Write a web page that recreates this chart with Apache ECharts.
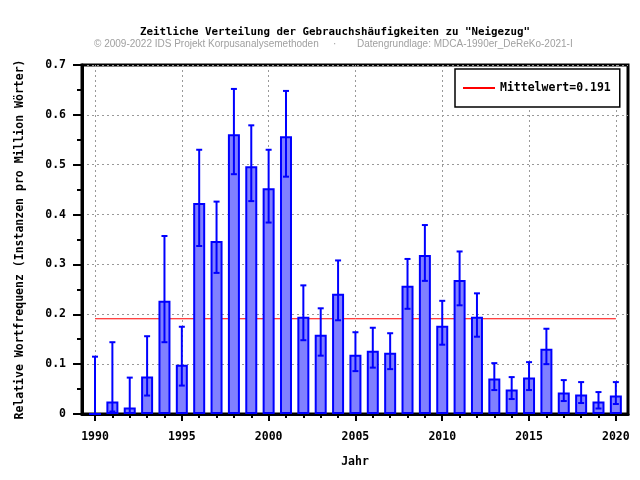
<!DOCTYPE html>
<html>
<head>
<meta charset="utf-8">
<script src="https://cdn.jsdelivr.net/npm/echarts@6/dist/echarts.min.js"></script>
<style>
  html, body { margin: 0; padding: 0; background: #fff; }
  #chart { width: 640px; height: 480px; }
</style>
</head>
<body>
<div id="chart"></div>
<script>
// Jahre und Werte (relative Frequenz, pro Million Wörter)
const years = [1990, 1991, 1992, 1993, 1994, 1995, 1996, 1997, 1998, 1999,
  2000, 2001, 2002, 2003, 2004, 2005, 2006, 2007, 2008, 2009,
  2010, 2011, 2012, 2013, 2014, 2015, 2016, 2017, 2018, 2019, 2020]
const freq = [0, 0.025, 0.013, 0.075, 0.227, 0.099, 0.423, 0.347, 0.561, 0.497,
  0.453, 0.557, 0.195, 0.159, 0.241, 0.119, 0.127, 0.123, 0.257, 0.319,
  0.177, 0.269, 0.195, 0.071, 0.049, 0.073, 0.131, 0.043, 0.039, 0.025, 0.037]
// Konfidenzintervall unten / oben
const errLow = [0, 0.005, 0.002, 0.037, 0.144, 0.057, 0.337, 0.283, 0.481, 0.427,
  0.384, 0.476, 0.148, 0.117, 0.188, 0.086, 0.093, 0.090, 0.211, 0.267,
  0.139, 0.218, 0.155, 0.048, 0.030, 0.048, 0.100, 0.026, 0.022, 0.011, 0.020]
const errHigh = [0.115, 0.144, 0.073, 0.156, 0.357, 0.175, 0.530, 0.426, 0.652, 0.579,
  0.530, 0.648, 0.258, 0.212, 0.308, 0.164, 0.173, 0.162, 0.311, 0.379,
  0.227, 0.326, 0.242, 0.102, 0.074, 0.104, 0.171, 0.068, 0.064, 0.044, 0.064]
const majorYears = [1990, 1995, 2000, 2005, 2010, 2015, 2020]
const meanValue = 0.191

const monoFont = 'DejaVu Sans Mono'
const blue = '#0000ff'

let chart = echarts.init(document.getElementById('chart'))

let barData = years.map((y, i) => [y, freq[i]])
let errData = years.map((y, i) => [y, errLow[i], errHigh[i]])
let meanData = [[years[0], meanValue], [years[years.length - 1], meanValue]]

let option = {
  backgroundColor: '#fff',
  animation: false,
  graphic: [
    {
      type: 'text', left: 140, top: 27,
      style: {
        text: 'Zeitliche Verteilung der Gebrauchshäufigkeiten zu "Neigezug"',
        font: 'bold 10.8px ' + monoFont, fill: '#000'
      }
    },
    {
      type: 'text', left: 94, top: 39,
      style: { text: '© 2009-2022 IDS Projekt Korpusanalysemethoden', font: '10px Liberation Sans', fill: '#a0a0a0' }
    },
    {
      type: 'text', left: 333, top: 39,
      style: { text: '·', font: '10px Liberation Sans', fill: '#a0a0a0' }
    },
    {
      type: 'text', left: 357, top: 39,
      style: { text: 'Datengrundlage: MDCA-1990er_DeReKo-2021-I', font: '10px Liberation Sans', fill: '#a0a0a0' }
    }
  ],
  legend: {
    left: 455,
    top: 69,
    padding: [13, 9, 13, 7],
    borderColor: '#000',
    borderWidth: 1.5,
    backgroundColor: '#fff',
    itemWidth: 32,
    itemHeight: 14,
    itemStyle: { opacity: 0 },   // nur die Linie, kein Kreis
    data: ['Mittelwert=0.191'],
    textStyle: { fontFamily: monoFont, fontWeight: 'bold', fontSize: 11.5, color: '#000' }
  },
  grid: {
    left: 82, right: 12, top: 65, bottom: 66,
    show: true, borderColor: '#000', borderWidth: 3
  },
  xAxis: [
    {
      type: 'value', min: 1989.25, max: 2020.7, position: 'bottom',
      name: 'Jahr', nameLocation: 'middle', nameGap: 42,
      nameTextStyle: { fontFamily: monoFont, fontWeight: 'bold', fontSize: 11.5, color: '#000' },
      axisLine: { lineStyle: { color: '#000', width: 3 } },
      axisTick: { customValues: majorYears, length: 7, lineStyle: { color: '#000', width: 2 } },
      axisLabel: {
        customValues: majorYears, margin: 17,
        fontFamily: monoFont, fontWeight: 'bold', fontSize: 11.5, color: '#000',
        formatter: v => String(v)
      },
      splitLine: { show: true, lineStyle: { color: '#999', type: [2, 3], width: 1 } }
    },
    {
      // kleine Striche für jedes Jahr
      type: 'value', min: 1989.25, max: 2020.7, position: 'bottom',
      axisLine: { show: false },
      axisTick: { customValues: years, length: 4, lineStyle: { color: '#000', width: 2 } },
      axisLabel: { show: false },
      splitLine: { show: false }
    }
  ],
  yAxis: {
    type: 'value', min: 0, max: 0.7, interval: 0.1,
    name: 'Relative Wortfrequenz (Instanzen pro Million Wörter)',
    nameLocation: 'middle', nameGap: 56,
    nameTextStyle: { fontFamily: monoFont, fontWeight: 'bold', fontSize: 11.5, color: '#000' },
    axisLine: { show: true, lineStyle: { color: '#000', width: 3 } },
    axisTick: { length: 9, lineStyle: { color: '#000', width: 2 } },
    minorTick: { show: true, splitNumber: 2, length: 5, lineStyle: { color: '#000', width: 2 } },
    axisLabel: {
      margin: 16,
      fontFamily: monoFont, fontWeight: 'bold', fontSize: 11.5, color: '#000',
      formatter: v => v === 0 ? '0' : v.toFixed(1)
    },
    splitLine: { show: true, lineStyle: { color: '#999', type: [2, 3], width: 1 } }
  },
  series: [
    {
      name: 'Mittelwert=0.191',
      type: 'line',
      data: meanData,
      symbol: 'none',
      z: 1,
      lineStyle: { color: '#ff0000', width: 1 },
      itemStyle: { color: '#ff0000' }
    },
    {
      name: 'Frequenz',
      type: 'bar',
      data: barData,
      barWidth: 12,
      z: 2,
      itemStyle: { color: '#8080ff', borderColor: blue, borderWidth: 2 }
    },
    {
      name: 'Fehler',
      type: 'custom',
      data: errData,
      z: 3,
      renderItem(params, api) {
        let x = api.value(0)
        let lo = api.coord([x, api.value(1)])
        let hi = api.coord([x, api.value(2)])
        let cap = 3
        let style = { stroke: blue, lineWidth: 2 }
        return {
          type: 'group',
          children: [
            { type: 'line', shape: { x1: lo[0], y1: lo[1], x2: hi[0], y2: hi[1] }, style },
            { type: 'line', shape: { x1: hi[0] - cap, y1: hi[1], x2: hi[0] + cap, y2: hi[1] }, style },
            { type: 'line', shape: { x1: lo[0] - cap, y1: lo[1], x2: lo[0] + cap, y2: lo[1] }, style }
          ]
        }
      }
    }
  ]
}
chart.setOption(option)
</script>
</body>
</html>
